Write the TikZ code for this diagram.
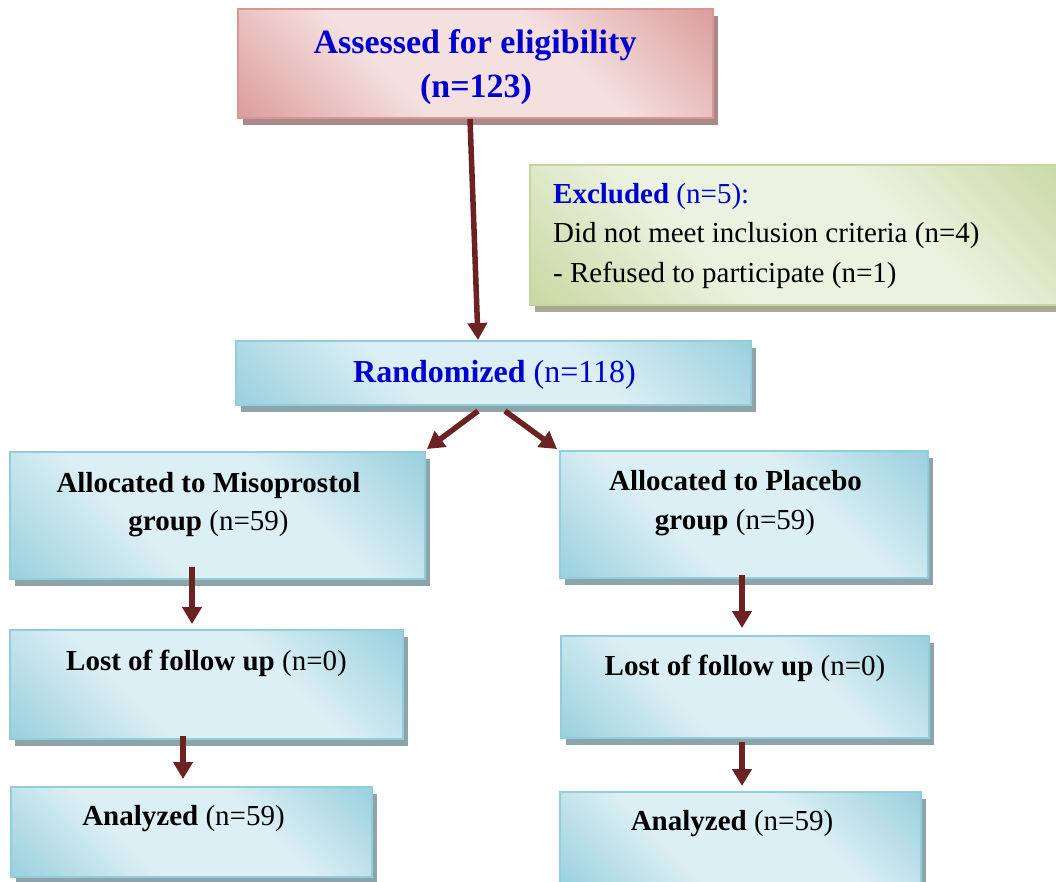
\documentclass[tikz,border=0pt]{standalone}
\usepackage{fontspec}
\setmainfont{Liberation Serif}
\usetikzlibrary{shadows,arrows.meta,calc}
\definecolor{pinkD}{RGB}{217,150,148}
\definecolor{pinkL}{RGB}{244,224,223}
\definecolor{pinkS}{RGB}{168,138,138}
\definecolor{blueD}{RGB}{146,205,220}
\definecolor{blueL}{RGB}{220,239,244}
\definecolor{blueS}{RGB}{140,164,170}
\definecolor{greenD}{RGB}{195,214,155}
\definecolor{greenL}{RGB}{236,242,224}
\definecolor{greenS}{RGB}{165,170,145}
\definecolor{arrowc}{RGB}{108,34,34}
\definecolor{txtblue}{RGB}{0,0,204}
\pgfdeclareverticalshading{pinkshade}{100bp}{color(0bp)=(pinkD); color(12bp)=(pinkD); color(38bp)=(pinkL); color(62bp)=(pinkL); color(88bp)=(pinkD); color(100bp)=(pinkD)}
\pgfdeclareverticalshading{blueshade}{100bp}{color(0bp)=(blueD); color(12bp)=(blueD); color(38bp)=(blueL); color(62bp)=(blueL); color(88bp)=(blueD); color(100bp)=(blueD)}
\pgfdeclareverticalshading{greenshade}{100bp}{color(0bp)=(greenD); color(12bp)=(greenD); color(38bp)=(greenL); color(62bp)=(greenL); color(88bp)=(greenD); color(100bp)=(greenD)}
\tikzset{
  boxbase/.style={rectangle, line width=2pt, inner sep=0pt},
  pinkbox/.style={boxbase, draw=pinkD, shading=pinkshade, shading angle=-45,
    drop shadow={shadow xshift=5pt, shadow yshift=-7pt, fill=pinkS, opacity=1}},
  greenbox/.style={boxbase, draw=greenD, shading=greenshade, shading angle=-45,
    drop shadow={shadow xshift=5pt, shadow yshift=-7pt, fill=greenS, opacity=1}},
  bluebox/.style={boxbase, draw=blueD, shading=blueshade, shading angle=-45,
    drop shadow={shadow xshift=5pt, shadow yshift=-7pt, fill=blueS, opacity=1}},
  txt/.style={inner sep=0pt, anchor=base, font=\fontsize{29}{35}\selectfont},
  arr/.style={draw=arrowc, line width=5.5pt, -{Triangle[width=19pt,length=17pt]}, fill=arrowc}
}
\begin{document}
\begin{tikzpicture}[x=1pt,y=-1pt]
\useasboundingbox (0,0) rectangle (1056,881);
\clip (0,0) rectangle (1056,881);
% boxes
\node[pinkbox, minimum width=475pt, minimum height=109pt] (top) at (475.5,63.5) {};
\node[greenbox, minimum width=540pt, minimum height=140pt] (excl) at (800,235) {};
\node[bluebox, minimum width=515pt, minimum height=64pt] (rand) at (493.5,373) {};
\node[bluebox, minimum width=415pt, minimum height=127pt] (alm) at (217.5,515.5) {};
\node[bluebox, minimum width=368pt, minimum height=127pt] (alp) at (744,514.5) {};
\node[bluebox, minimum width=393pt, minimum height=109pt] (lol) at (206.5,684.5) {};
\node[bluebox, minimum width=368pt, minimum height=102pt] (lop) at (745,687) {};
\node[bluebox, minimum width=361pt, minimum height=90pt] (anl) at (191.5,832) {};
\node[bluebox, minimum width=361pt, minimum height=96pt] (anp) at (740.5,840) {};
% texts
\node[txt, font=\fontsize{34}{40}\selectfont\bfseries, text=txtblue] (t1a) at (475,53) {Assessed for eligibility};
\node[txt, font=\fontsize{34}{40}\selectfont\bfseries, text=txtblue] (t1b) at (476,97) {(n=123)};
\node[txt, anchor=base west, text=txtblue] (exa) at (553,203) {\textbf{Excluded} (n=5):};
\node[txt, anchor=base west] (exb) at (553,242) {Did not meet inclusion criteria (n=4)};
\node[txt, anchor=base west] (exc) at (553,282) {- Refused to participate (n=1)};
\node[txt, font=\fontsize{32}{38}\selectfont, text=txtblue] (rt) at (494.5,382) {\textbf{Randomized} (n=118)};
\node[txt] (ama) at (208.5,492) {\textbf{Allocated to Misoprostol}};
\node[txt] (amb) at (208.5,530) {\textbf{group} (n=59)};
\node[txt] (apa) at (735.5,490) {\textbf{Allocated to Placebo}};
\node[txt] (apb) at (735,529) {\textbf{group} (n=59)};
\node[txt] (lolt) at (206.5,670) {\textbf{Lost of follow up} (n=0)};
\node[txt] (lopt) at (745,675) {\textbf{Lost of follow up} (n=0)};
\node[txt] (anlt) at (183.5,825) {\textbf{Analyzed} (n=59)};
\node[txt] (anpt) at (732,830) {\textbf{Analyzed} (n=59)};
% arrows
\draw[arr] ($(top.south)+(-5.5,0)$) -- ($(rand.north)+(-15.5,0)$);
\draw[arr] ($(rand.south)+(-15.5,5)$) -- ($(alm.north east)+(1,-2)$);
\draw[arr] ($(rand.south)+(11.5,5)$) -- ($(alp.north west)+(-2,-1)$);
\draw[arr] ($(alm.south)+(-25.5,-13)$) -- ($(lol.north)+(-14.5,-5)$);
\draw[arr] ($(alp.south)+(-2,-4)$) -- ($(lop.north)+(-3,-7)$);
\draw[arr] ($(lol.south)+(-23.5,-4)$) -- ($(anl.north)+(-8.5,-7)$);
\draw[arr] ($(lop.south)+(-3,3)$) -- ($(anp.north)+(1.5,-5)$);
\end{tikzpicture}
\end{document}
